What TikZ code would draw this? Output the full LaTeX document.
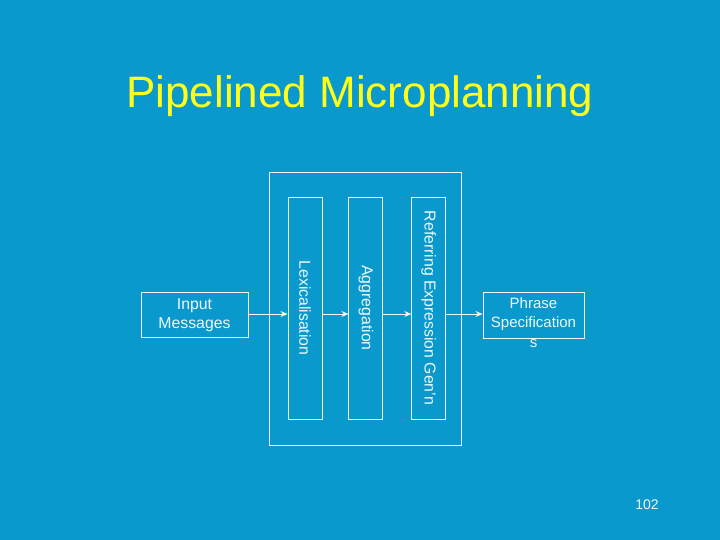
\documentclass[tikz,border=0pt]{standalone}
\usepackage{fontspec}
\setmainfont{Liberation Sans}
\usetikzlibrary{arrows.meta,positioning}
\definecolor{cSlide}{HTML}{0A99CC}
\definecolor{cTitle}{HTML}{FFFF1A}
\definecolor{cLine}{HTML}{F2F8FB}

\begin{document}
\begin{tikzpicture}[
    x=1pt, y=-1pt,
    font=\fontsize{15.8}{18.5}\selectfont,
    box/.style={draw=cLine, line width=0.9pt, text=cLine, align=center, inner sep=0pt},
    stagebox/.style={box, minimum width=34pt, minimum height=222pt},
    arr/.style={-{Stealth[length=7pt, width=6pt]}, line width=0.9pt, draw=cLine}
]
\path[fill=cSlide, use as bounding box] (0,0) rectangle (720,540);

\node[font=\fontsize{44}{50}\selectfont, text=cTitle, anchor=base] (title) at (360,108) {Pipelined Microplanning};

\node[box, minimum width=192pt, minimum height=273pt] (pipeline) at (365,308.5) {};
\node[stagebox] (lex) at (305,308) {};
\node[stagebox, right=26pt of lex] (agg) {};
\node[stagebox, right=28pt of agg] (ref) {};
\node[rotate=-90, text=cLine] at (lex) {Lexicalisation};
\node[rotate=-90, text=cLine] at (agg) {Aggregation};
\node[rotate=-90, text=cLine] at (ref) {Referring Expression Gen'n};

\node[box, minimum width=107pt, text height=36pt, text depth=9pt] (input) at (194.5,292) [anchor=north] {Input\\Messages};
\node[box, minimum width=101pt, text height=16pt, text depth=30pt, font=\fontsize{15}{19.5}\selectfont] (phrase) at (533.5,292) [anchor=north] {\parbox[t]{101pt}{\centering Phrase\\Specification\\s}};

\draw[arr] (input.east |- 0,314) -- (lex.west |- 0,314);
\draw[arr] (lex.east |- 0,314) -- (agg.west |- 0,314);
\draw[arr] (agg.east |- 0,314) -- (ref.west |- 0,314);
\draw[arr] (ref.east |- 0,314) -- (phrase.west |- 0,314);

\node[text=cLine, font=\fontsize{14}{16}\selectfont, anchor=base] (pagenum) at (647,509) {102};
\end{tikzpicture}
\end{document}
